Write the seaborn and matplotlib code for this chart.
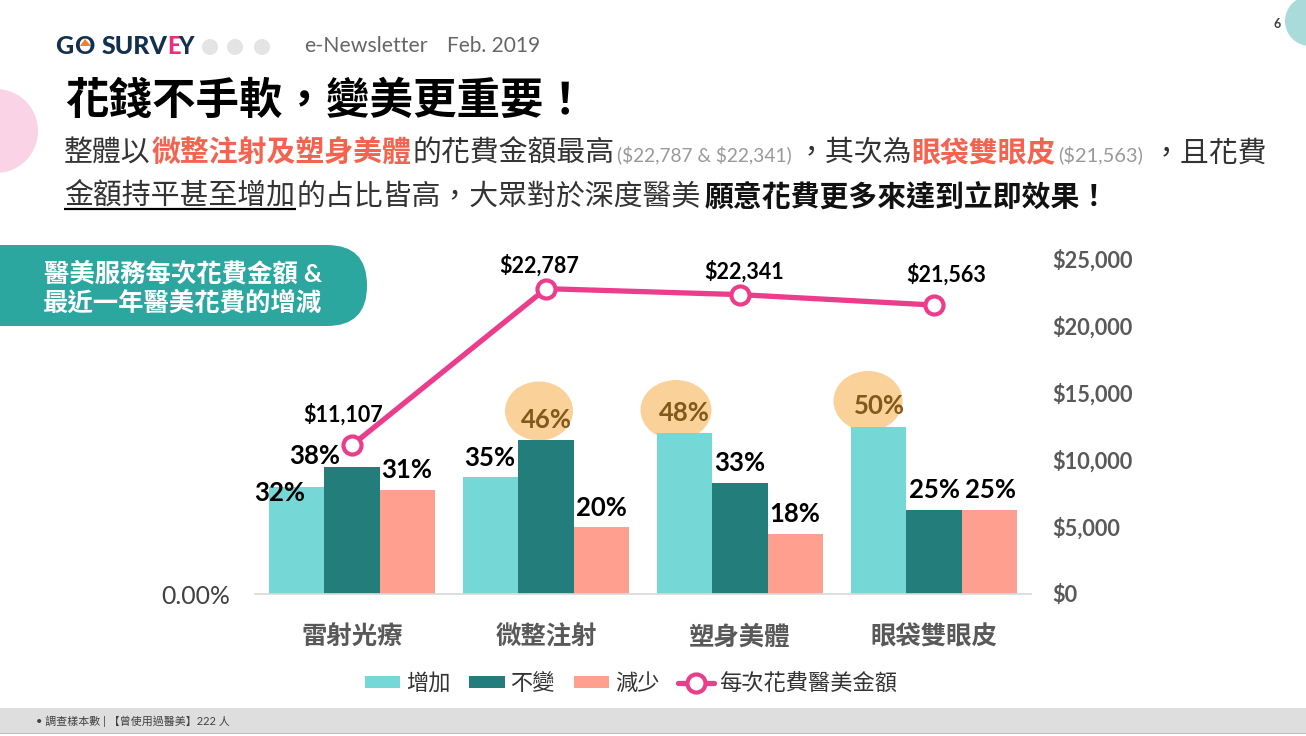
import matplotlib
matplotlib.use("Agg")
import matplotlib.pyplot as plt
from matplotlib.patches import Circle, Ellipse, FancyBboxPatch, Rectangle, Polygon
import pandas as pd
import seaborn as sns

categories = ['雷射光療', '微整注射', '塑身美體', '眼袋雙眼皮']
series_names = ['增加', '不變', '減少']
increase = [32, 35, 48, 50]
same = [38, 46, 33, 25]
decrease = [31, 20, 18, 25]
cost = [11107, 22787, 22341, 21563]
right_ticks = [0, 5000, 10000, 15000, 20000, 25000]
line_name = '每次花費醫美金額'

W, H = 1306, 736
CJK = ['Lato', 'Noto Sans CJK TC', 'DejaVu Sans']
sns.set_theme(style='white')
plt.rcParams['font.family'] = CJK

fig = plt.figure(figsize=(W / 100, H / 100), dpi=100, facecolor='white')

# background layer in pixel coordinates
bg = fig.add_axes([0, 0, 1, 1], zorder=0)
bg.set_xlim(0, W)
bg.set_ylim(H, 0)
bg.axis('off')

# plot area, same pixel box as the reference
ax = fig.add_axes([255 / W, 1 - 594 / H, 776 / W, 335 / H], zorder=1)
ax.patch.set_alpha(0)

rows = []
for name, vals in zip(series_names, [increase, same, decrease]):
    for c, v in zip(categories, vals):
        rows.append({'cat': c, 'kind': name, 'pct': v / 100})
df = pd.DataFrame(rows)

palette = ['#75D8D6', '#237D7B', '#FE9F8F']
sns.barplot(data=df, x='cat', y='pct', hue='kind', palette=palette, width=0.856,
            gap=0, saturation=1, ax=ax, order=categories, hue_order=series_names, linewidth=0)
handles, labels = ax.get_legend_handles_labels()
ax.get_legend().remove()
ax.set_xlim(-0.5, 3.5)
ax.set_ylim(0, 1)
ax.set_yticks([0])
ax.set_yticklabels(['0.00%'], fontsize=17.8, color='#404040')
ax.tick_params(axis='y', length=0, pad=18)
ax.tick_params(axis='x', length=0, pad=21.5)
ax.set_xticks(range(4))
ax.set_xticklabels(categories, fontsize=18.3, fontweight='bold', color='#595959')
ax.set_xlabel('')
ax.set_ylabel('')
sns.despine(ax=ax, left=True, right=True, top=True)
ax.spines['bottom'].set_color('#D9D9D9')

ax2 = ax.twinx()
ax2.patch.set_alpha(0)
sns.lineplot(x=categories, y=cost, ax=ax2, color='#EC3D8C', linewidth=3.8, marker='o',
             markersize=13, markerfacecolor='white', markeredgecolor='#EC3D8C',
             markeredgewidth=3, sort=False, errorbar=None, label=line_name)
line_handles, line_labels = ax2.get_legend_handles_labels()
ax2.get_legend().remove()
ax2.set_ylim(0, 25000)
ax2.set_yticks(right_ticks)
ax2.set_yticklabels([f'${v:,}' for v in right_ticks], fontsize=15.7, fontweight='bold', color='#595959')
ax2.tick_params(axis='y', length=0, pad=15)
ax2.set_ylabel('')
sns.despine(ax=ax2, left=True, right=True, top=True, bottom=True)

fig.legend(handles + line_handles, labels + line_labels, loc='center',
           bbox_to_anchor=(631 / W, 1 - 683 / H), ncol=4, frameon=False,
           handlelength=1.6, handleheight=0.45, handletextpad=0.25, columnspacing=0.85,
           labelcolor='#333333', prop={'family': CJK, 'size': 16})

# decorations
bg.add_patch(Circle((-4, 131), 42, color='#FBD3E6', lw=0))
bg.add_patch(Circle((1310, 21), 25, color='#A9DBDB', lw=0))
bg.add_patch(FancyBboxPatch((-60, 245), 427, 81, boxstyle='round,pad=0,rounding_size=40',
                            fc='#2BA7A0', ec='none'))
bg.add_patch(Rectangle((0, 708), W, 25, color='#DEDEDE', lw=0))
bg.add_patch(Rectangle((0, 733), W, 1, color='#BDBDBD', lw=0))
for cx, cy, ew, eh in [(539, 411, 68, 59), (676, 410, 71, 60), (868, 401, 69, 60)]:
    bg.add_patch(Ellipse((cx, cy), ew, eh, color='#FAD199', lw=0))
for cx in [210, 235, 262]:
    bg.add_patch(Circle((cx, 47), 8, color='#E4E4E4', lw=0))


def put(x, y, s, size, color='black', weight='normal', ha='left', zorder=5):
    return bg.figure.text(x / W, 1 - y / H, s, fontsize=size, color=color, fontweight=weight,
                          ha=ha, va='center', zorder=zorder)


# logo and header
NAVY = '#14304F'
put(55, 47, 'G', 18, NAVY, 'black')
put(74, 47, 'O', 18, NAVY, 'black')
bg.add_patch(Polygon([(85, 39), (91, 46), (80, 46)], color='#F58220', lw=0))
put(102, 47, 'SURV', 18, NAVY, 'black')
put(167, 47, 'E', 17, '#E8307F', 'black')
put(178, 47, 'Y', 17, NAVY, 'black')
put(304, 46, 'e-Newsletter', 15.3, '#666666')
put(447, 46, 'Feb. 2019', 15, '#666666')
put(1274, 24, '6', 9, '#404040', 'bold')

put(65, 100, '花錢不手軟，變美更重要！', 31.3, 'black', 'bold')

ORANGE = '#F4634F'
GRAY = '#999999'
BODY = '#333333'
put(64, 153, '整體以', 20.8, BODY)
put(152, 153, '微整注射及塑身美體', 20.8, ORANGE, 'bold')
put(412, 153, '的花費金額最高', 20.8, BODY)
put(617, 155, r'(\$22,787 & \$22,341)', 13.8, GRAY)
put(797, 153, '，其次為', 20.8, BODY)
put(911, 153, '眼袋雙眼皮', 20.8, ORANGE, 'bold')
put(1058, 155, r'(\$21,563)', 14.4, GRAY)
put(1152, 153, '，且花費', 20.8, BODY)
put(64, 196, '金額持平甚至增加', 20.8, BODY)
put(296, 196, '的占比皆高，大眾對於深度醫美', 20.8, BODY)
put(705, 196, '願意花費更多來達到立即效果！', 20.8, '#111111', 'bold')
bg.plot([64, 296], [209, 209], color='black', lw=1.6, solid_capstyle='butt')

put(183, 273, '醫美服務每次花費金額 &', 18.3, 'white', 'bold', ha='center')
put(183, 302, '最近一年醫美花費的增減', 18.3, 'white', 'bold', ha='center')

# data labels, placed by hand as in the reference
pct_pos = [[(280, 493), (490, 458), (684, 413), (879, 406)],
           [(315, 456), (546, 420), (740, 463), (934, 490)],
           [(407, 470), (601, 508), (795, 514), (990, 490)]]
for vals, places in zip([increase, same, decrease], pct_pos):
    for v, (x, y) in zip(vals, places):
        col = '#7F5A1B' if v >= 46 else 'black'
        put(x, y, f'{v}%', 18.5, col, 'bold', ha='center')
for v, (x, y) in zip(cost, [(343, 415), (539, 266), (744, 272), (946, 275)]):
    put(x, y, f'${v:,}', 15.5, 'black', 'bold', ha='center')

put(36, 721, '• 調查樣本數 | 【曾使用過醫美】222 人', 7.9, '#404040')

fig.savefig('out.png', dpi=100)
